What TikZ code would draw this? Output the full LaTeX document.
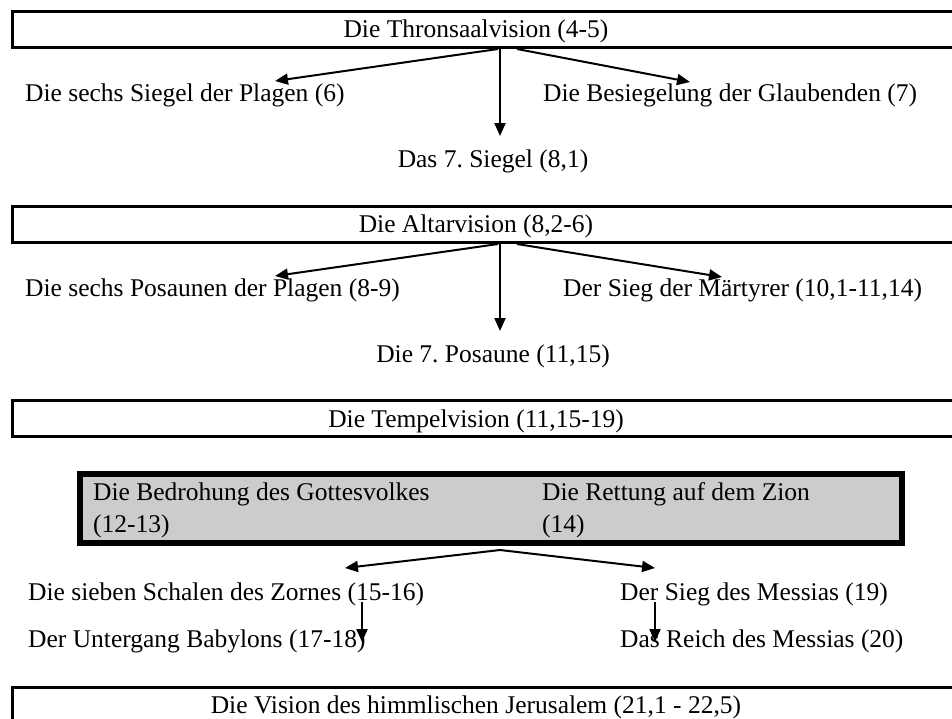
\documentclass[tikz,border=0pt]{standalone}
\usepackage{fontspec}
\setmainfont{Liberation Serif}
\usetikzlibrary{arrows.meta}
\definecolor{graybox}{HTML}{CCCCCC}
\frenchspacing
\begin{document}
\begin{tikzpicture}[x=1pt,y=-1pt,
  lbl/.style={inner sep=0pt, font=\fontsize{25.5}{30}\selectfont, text=black},
  vbox/.style={draw=black, line width=2.5pt, inner sep=0pt, anchor=north west, minimum height=36pt, minimum width=960pt},
  arr/.style={line width=2pt, -{Triangle[length=13pt,width=11pt]}}]
\useasboundingbox (0,0) rectangle (952,718);
\clip (0,0) rectangle (952,718);

% ---------- Throne vision ----------
\node[vbox] (b1) at (11,10) {};
\node[lbl, anchor=base] (t1) at (476,37) {Die Thronsaalvision (4-5)};
\node[lbl, anchor=base west] (s1) at (25,101) {Die sechs Siegel der Plagen (6)};
\node[lbl, anchor=base west] (g1) at (543,101) {Die Besiegelung der Glaubenden (7)};
\node[lbl, anchor=base] (m1) at (493,167) {Das 7. Siegel (8,1)};
\coordinate (b1l) at (498,49);
\coordinate (b1m) at (500,47);
\coordinate (b1r) at (517,49);
\coordinate (s1tip) at (275,81);
\coordinate (g1tip) at (690,82);
\coordinate (m1tip) at (500,136);
\draw[arr] (b1l) -- (s1tip);
\draw[arr] (b1r) -- (g1tip);
\draw[arr] (b1m) -- (m1tip);

% ---------- Altar vision ----------
\node[vbox] (b2) at (11,205) {};
\node[lbl, anchor=base] (t2) at (476,232) {Die Altarvision (8,2-6)};
\node[lbl, anchor=base west] (s2) at (25,296) {Die sechs Posaunen der Plagen (8-9)};
\node[lbl, anchor=base west] (g2) at (563,296) {Der Sieg der Märtyrer (10,1-11,14)};
\node[lbl, anchor=base] (m2) at (493,362) {Die 7. Posaune (11,15)};
\coordinate (b2l) at (498,244);
\coordinate (b2m) at (500,242);
\coordinate (b2r) at (517,244);
\coordinate (s2tip) at (275,276);
\coordinate (g2tip) at (722,277);
\coordinate (m2tip) at (500,331);
\draw[arr] (b2l) -- (s2tip);
\draw[arr] (b2r) -- (g2tip);
\draw[arr] (b2m) -- (m2tip);

% ---------- Temple vision ----------
\node[vbox] (b3) at (11,399) {};
\node[lbl, anchor=base] (t3) at (476,427) {Die Tempelvision (11,15-19)};

% ---------- grey box ----------
\node[draw=black, fill=graybox, line width=6pt, inner sep=0pt, anchor=north west,
      minimum width=822pt, minimum height=69pt] (gb) at (77,471) {};
\node[lbl, anchor=base west] (gl1) at (93,500) {Die Bedrohung des Gottesvolkes};
\node[lbl, anchor=base west] (gl2) at (93,532) {(12-13)};
\node[lbl, anchor=base west] (gr1) at (542,500) {Die Rettung auf dem Zion};
\node[lbl, anchor=base west] (gr2) at (542,532) {(14)};

% ---------- lower items ----------
\node[lbl, anchor=base west] (z1) at (28,600) {Die sieben Schalen des Zornes (15-16)};
\node[lbl, anchor=base west] (z2) at (28,647) {Der Untergang Babylons (17-18)};
\node[lbl, anchor=base west] (r1) at (620,600) {Der Sieg des Messias (19)};
\node[lbl, anchor=base west] (r2) at (620,647) {Das Reich des Messias (20)};
\coordinate (apex) at (500,550);
\coordinate (z1tip) at (345,568);
\coordinate (r1tip) at (655,568);
\draw[arr] (apex) -- (z1tip);
\draw[arr] (apex) -- (r1tip);
\coordinate (z1s) at (362,602);
\coordinate (z2tip) at (362,642);
\coordinate (r1s) at (655,602);
\coordinate (r2tip) at (655,642);
\draw[arr] (z1s) -- (z2tip);
\draw[arr] (r1s) -- (r2tip);

% ---------- Jerusalem vision ----------
\node[vbox] (b4) at (11,686) {};
\node[lbl, anchor=base] (t4) at (476,713) {Die Vision des himmlischen Jerusalem (21,1 - 22,5)};
\end{tikzpicture}
\end{document}
